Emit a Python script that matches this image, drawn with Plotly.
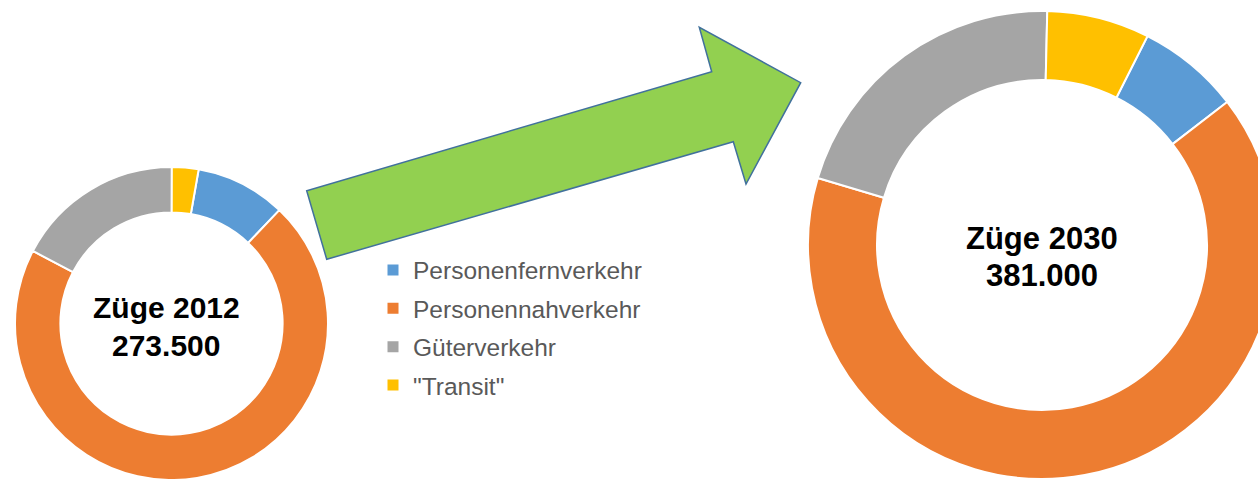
import plotly.graph_objects as go

# ---- data ----
categories = ["Personenfernverkehr", "Personennahverkehr", "Güterverkehr", '"Transit"']
zuege_2012 = [25500, 193000, 47500, 7500]
zuege_2030 = [27000, 248000, 79000, 27000]
center_2012 = ["Züge 2012", "273.500"]
center_2030 = ["Züge 2030", "381.000"]

colors = ["#5B9BD5", "#ED7D31", "#A5A5A5", "#FFC000"]

# ---- layout helpers (pixel geometry of the canvas) ----
W, H = 1300, 500
FONT = "Liberation Sans, Arial, sans-serif"


def px(x):
    return x / W


def py(y):
    return 1 - y / H


def dom(cx, cy, r):
    return dict(x=[px(cx - r), px(cx + r)], y=[py(cy + r), py(cy - r)])


fig = go.Figure()

fig.add_trace(go.Pie(
    labels=categories, values=zuege_2012, hole=0.71, sort=False,
    direction="clockwise", rotation=10,
    marker=dict(colors=colors, line=dict(color="white", width=2)),
    textinfo="none", hoverinfo="label+value+percent",
    domain=dom(171.5, 323.5, 156.5), showlegend=False,
))

fig.add_trace(go.Pie(
    labels=categories, values=zuege_2030, hole=0.705, sort=False,
    direction="clockwise", rotation=26.8,
    marker=dict(colors=colors, line=dict(color="white", width=2)),
    textinfo="none", hoverinfo="label+value+percent",
    domain=dom(1042, 245, 234), showlegend=False,
))

# legend entries (one per category, same colours as the slices)
for name, col in zip(categories, colors):
    fig.add_trace(go.Scatter(
        x=[None], y=[None], mode="markers", name=name, legendgroup=name,
        marker=dict(symbol="square", size=11, color=col), showlegend=True,
        hoverinfo="skip"))

# green arrow (decoration)
arrow_pts = [(326.7, 259.3), (306.7, 190.7), (711.7, 71.7), (699.3, 27.3),
             (800.7, 82.7), (746.0, 184.0), (733.3, 141.7)]
path = "M " + " L ".join(f"{px(x):.5f},{py(y):.5f}" for x, y in arrow_pts) + " Z"
fig.add_shape(type="path", path=path, xref="paper", yref="paper",
              fillcolor="#92D050", line=dict(color="#41719C", width=1.5), layer="below")

annotations = []
for (cx, y1, y2, size), lines in [((166, 307.5, 345.0, 30), center_2012),
                                  ((1042, 238.5, 275.0, 31), center_2030)]:
    for yy, txt in zip((y1, y2), lines):
        annotations.append(dict(
            x=px(cx), y=py(yy), xref="paper", yref="paper", text=f"<b>{txt}</b>",
            showarrow=False, xanchor="center", yanchor="middle",
            font=dict(family=FONT, size=size, color="#000000")))

fig.update_layout(
    width=W, height=H,
    margin=dict(l=0, r=0, t=0, b=0, pad=0),
    paper_bgcolor="white", plot_bgcolor="white",
    xaxis=dict(visible=False), yaxis=dict(visible=False),
    annotations=annotations,
    legend=dict(x=px(373), y=py(247.5), xanchor="left", yanchor="top",
                font=dict(family=FONT, size=24.5, color="#595959"),
                bgcolor="rgba(0,0,0,0)", traceorder="grouped", tracegroupgap=3.5),
)

post = """
var gd = document.getElementById('{plot_id}');
document.documentElement.style.overflow = 'hidden';
document.body.style.margin = '0';
document.body.style.overflow = 'hidden';
var p = gd.parentElement;
p.style.width = '1258px';
p.style.height = '479px';
p.style.overflow = 'hidden';
"""

fig.write_html("out.html", post_script=post, config={"displayModeBar": False})
